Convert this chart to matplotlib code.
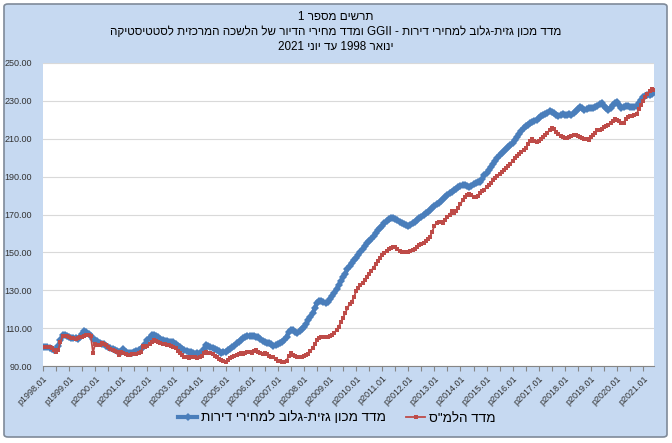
import re
import matplotlib
matplotlib.use("Agg")
import matplotlib.pyplot as plt
from matplotlib.patches import FancyBboxPatch

plt.rcParams['font.family'] = ['Liberation Sans', 'DejaVu Sans']

# ---------------- data ----------------
years = list(range(1998, 2022))
categories = [f"p{y}.{m:02d}" for y in years for m in range(1, 13)][:282]

gazit_values = (
    [100.0, 99.8, 99.9, 99.6, 99.2, 98.6, 98.2, 100.5, 103.5, 106.2, 106.5, 105.9] +   # 1998
    [105.4, 105.0, 104.8, 104.6, 104.4, 105.5, 107.0, 108.4, 107.8, 106.8, 105.6, 104.5] +  # 1999
    [103.5, 103.0, 102.3, 101.8, 101.4, 100.6, 100.0, 99.5, 98.9, 98.6, 98.0, 97.4] +  # 2000
    [97.6, 98.8, 97.4, 97.0, 96.9, 97.1, 97.4, 97.9, 98.3, 99.2, 100.1, 101.5] +  # 2001
    [103.6, 105.0, 106.5, 106.3, 106.0, 105.2, 104.4, 103.8, 103.2, 103.0, 102.9, 102.7] +  # 2002
    [102.7, 101.8, 100.6, 100.0, 98.9, 98.3, 97.8, 97.4, 97.2, 96.8, 96.4, 97.0] +  # 2003
    [96.9, 97.6, 99.0, 101.1, 100.5, 100.2, 99.6, 98.8, 98.5, 97.8, 97.1, 97.4] +  # 2004
    [97.6, 98.3, 99.2, 99.9, 100.8, 101.9, 102.9, 103.8, 104.7, 105.5, 105.8, 105.9] +  # 2005
    [105.9, 105.7, 105.4, 105.2, 104.3, 103.2, 102.8, 102.4, 102.0, 101.5, 100.8, 101.2] +  # 2006
    [101.8, 102.3, 102.8, 103.7, 105.5, 108.1, 108.8, 109.0, 108.2, 107.6, 108.5, 109.8] +  # 2007
    [110.8, 112.0, 114.3, 116.0, 117.8, 120.5, 123.5, 124.3, 124.5, 123.8, 123.1, 123.6] +  # 2008
    [125.6, 127.0, 128.8, 130.8, 132.8, 134.8, 136.8, 138.8, 141.0, 143.0, 144.6, 146.0] +  # 2009
    [147.2, 148.6, 150.3, 152.0, 153.2, 154.8, 155.9, 157.0, 158.6, 160.3, 161.6, 162.8] +  # 2010
    [163.9, 165.3, 166.5, 167.6, 168.2, 168.3, 167.8, 167.0, 166.2, 165.4, 164.8, 164.4] +  # 2011
    [164.0, 164.6, 165.6, 166.3, 167.3, 168.2, 168.9, 169.8, 170.6, 171.5, 172.4, 173.3] +  # 2012
    [174.5, 175.3, 176.2, 177.0, 178.0, 179.2, 180.3, 181.2, 182.1, 182.9, 183.7, 184.4] +  # 2013
    [185.0, 185.4, 185.6, 185.0, 184.7, 185.3, 186.0, 186.4, 187.0, 187.3, 188.8, 190.6] +  # 2014
    [192.0, 193.5, 195.2, 196.8, 198.4, 199.8, 201.2, 202.4, 203.5, 204.5, 205.5, 206.5] +  # 2015
    [208.0, 209.5, 211.1, 212.6, 214.0, 215.5, 216.6, 217.5, 218.5, 219.0, 219.5, 220.0] +  # 2016
    [221.0, 222.2, 222.6, 222.9, 223.8, 224.6, 224.2, 223.4, 222.8, 222.2, 222.5, 222.9] +  # 2017
    [222.6, 222.5, 223.0, 222.5, 223.5, 224.6, 225.7, 226.8, 226.0, 225.2, 225.7, 226.1] +  # 2018
    [226.1, 226.5, 226.8, 227.5, 228.2, 228.7, 227.2, 226.4, 225.2, 226.5, 227.8, 229.0] +  # 2019
    [229.2, 227.8, 226.4, 226.8, 227.5, 227.2, 226.9, 226.9, 226.9, 227.5, 228.9, 230.5] +  # 2020
    [232.0, 232.7, 233.0, 233.1, 233.8, 234.5]  # 2021
)

cbs_values = (
    [100.0, 99.9, 100.0, 99.8, 99.3, 98.6, 97.5, 98.7, 102.7, 105.6, 105.8, 105.6] +  # 1998
    [105.3, 105.0, 104.7, 104.4, 104.8, 105.2, 105.3, 105.8, 106.5, 106.2, 105.6, 97.0] +  # 1999
    [101.8, 100.9, 101.2, 102.3, 101.8, 100.9, 100.2, 99.2, 98.6, 98.0, 97.5, 95.7] +  # 2000
    [97.2, 96.9, 96.5, 96.0, 96.0, 96.2, 96.2, 96.5, 96.9, 97.3, 100.4, 100.0] +  # 2001
    [100.6, 101.8, 102.8, 103.9, 103.4, 102.7, 102.3, 101.8, 101.5, 101.2, 100.9, 100.5] +  # 2002
    [100.0, 99.5, 98.0, 96.8, 95.7, 95.0, 94.6, 94.3, 94.6, 95.0, 94.8, 94.3] +  # 2003
    [94.5, 95.5, 96.8, 97.2, 96.9, 96.7, 96.2, 95.5, 94.8, 93.8, 93.0, 92.5] +  # 2004
    [92.3, 93.0, 94.0, 94.6, 95.3, 95.8, 96.2, 96.7, 96.5, 97.0, 97.6, 97.2] +  # 2005
    [97.0, 97.8, 98.5, 97.5, 96.7, 96.5, 97.1, 96.5, 95.5, 95.0, 94.5, 93.5] +  # 2006
    [92.8, 92.5, 92.3, 92.0, 92.8, 95.2, 96.7, 96.0, 95.3, 94.9, 94.7, 95.0] +  # 2007
    [95.3, 95.8, 96.5, 97.8, 99.5, 101.5, 103.5, 104.6, 105.2, 105.5, 105.3, 105.2] +  # 2008
    [105.6, 106.5, 107.5, 109.0, 110.8, 113.0, 115.5, 118.0, 120.5, 122.8, 124.0, 126.2] +  # 2009
    [129.7, 131.2, 132.6, 134.0, 135.6, 137.2, 138.6, 140.3, 142.0, 143.7, 145.3, 147.0] +  # 2010
    [148.6, 149.7, 150.8, 151.8, 152.4, 152.8, 153.0, 152.0, 150.7, 150.4, 150.3, 150.4] +  # 2011
    [150.4, 150.9, 151.3, 152.0, 153.0, 153.7, 154.3, 154.8, 155.8, 157.0, 158.3, 161.0] +  # 2012
    [164.0, 165.5, 166.2, 165.8, 165.5, 167.0, 168.9, 169.8, 172.0, 170.8, 171.8, 173.5] +  # 2013
    [175.5, 177.5, 179.0, 180.3, 180.8, 180.5, 179.4, 179.0, 180.0, 181.2, 182.2, 183.0] +  # 2014
    [184.5, 185.6, 186.8, 188.0, 189.2, 190.4, 191.5, 192.6, 193.5, 194.6, 195.6, 196.8] +  # 2015
    [198.5, 199.8, 200.8, 201.8, 203.0, 204.2, 205.2, 207.0, 209.0, 210.0, 209.0, 208.4] +  # 2016
    [208.8, 209.8, 211.0, 212.0, 213.2, 214.6, 215.6, 215.0, 213.8, 212.6, 211.5, 210.8] +  # 2017
    [210.6, 210.4, 211.0, 211.6, 212.0, 212.2, 211.5, 210.8, 210.5, 210.0, 209.8, 209.5] +  # 2018
    [210.8, 211.8, 213.0, 214.4, 214.8, 215.3, 216.0, 216.8, 217.4, 218.3, 219.5, 220.2] +  # 2019
    [220.0, 219.6, 218.5, 218.5, 220.2, 221.3, 221.8, 222.2, 222.6, 223.2, 225.5, 228.0] +  # 2020
    [230.0, 232.0, 233.8, 235.2, 236.5, 235.5]  # 2021
)

y_ticks = [90, 110, 130, 150, 170, 190, 210, 230, 250]

title_lines = [
    "תרשים מספר 1",
    "מדד מכון גזית-גלוב למחירי דירות - GGII ומדד מחירי הדיור של הלשכה המרכזית לסטטיסטיקה",
    "ינואר 1998 עד יוני 2021",
]
label_gazit = "מדד מכון גזית-גלוב למחירי דירות"
label_cbs = 'מדד הלמ"ס'


def vis(s):
    """Convert logical-order Hebrew text to visual order for LTR rendering."""
    r = s[::-1]
    return re.sub(r'[A-Za-z0-9.]+', lambda m: m.group(0)[::-1], r)


# ---------------- figure ----------------
W, H = 672, 443
fig = plt.figure(figsize=(W / 100, H / 100), dpi=100)
fig.patch.set_facecolor('white')

bg = FancyBboxPatch((4 / W, 6 / H), (667 - 4) / W, (439 - 6) / H,
                    boxstyle="round,pad=0,rounding_size=0.006",
                    transform=fig.transFigure, facecolor='#C6D9F1',
                    edgecolor='#7F8A99', linewidth=1.2, zorder=-5)
fig.patches.append(bg)

ax = fig.add_axes([43 / W, 1 - 366 / H, (654 - 43) / W, (366 - 63) / H])
ax.set_zorder(5)
ax.set_facecolor('white')

n = len(gazit_values)
x = list(range(n))

ax.plot(x, gazit_values, color='#4A7EBB', lw=3.0, marker='D', markersize=4.2,
        markeredgewidth=0, label=vis(label_gazit), zorder=3)
ax.plot(x, cbs_values, color='#BE4B48', lw=1.3, marker='s', markersize=2.8,
        markeredgewidth=0, label=vis(label_cbs), zorder=4)

ax.set_xlim(0, n - 1)
ax.set_ylim(90, 250)
ax.set_yticks(y_ticks)
ax.set_yticklabels([f"{v:.2f}" for v in y_ticks], fontsize=6.5, color='#333333')
ax.yaxis.grid(True, color='#D9D9D9', lw=0.8)
ax.set_axisbelow(True)
ax.tick_params(axis='y', length=0, pad=8)

tick_pos = list(range(0, n, 6))
ax.set_xticks(tick_pos)
ax.set_xticklabels([categories[i] if i % 12 == 0 else '' for i in tick_pos],
                   rotation=45, ha='right', va='top', rotation_mode='anchor',
                   fontsize=6.5, color='#333333')
ax.tick_params(axis='x', direction='out', length=3.5, width=0.8, color='#868686', pad=2)

for s in ['top', 'right', 'left']:
    ax.spines[s].set_visible(False)
ax.spines['bottom'].set_color('#868686')
ax.spines['bottom'].set_linewidth(0.8)

# title
for txt, yp in zip(title_lines, [17, 32, 47]):
    fig.text(0.5, 1 - yp / H, vis(txt), ha='center', va='center',
             fontsize=8.4, color='black')

leg = fig.legend(loc='center', bbox_to_anchor=(337 / W, 1 - 418 / H), ncol=2,
                 frameon=False, fontsize=9.7, handlelength=1.4,
                 handletextpad=0.3, columnspacing=1.5)

fig.savefig('out.png', dpi=100, facecolor=fig.get_facecolor())
